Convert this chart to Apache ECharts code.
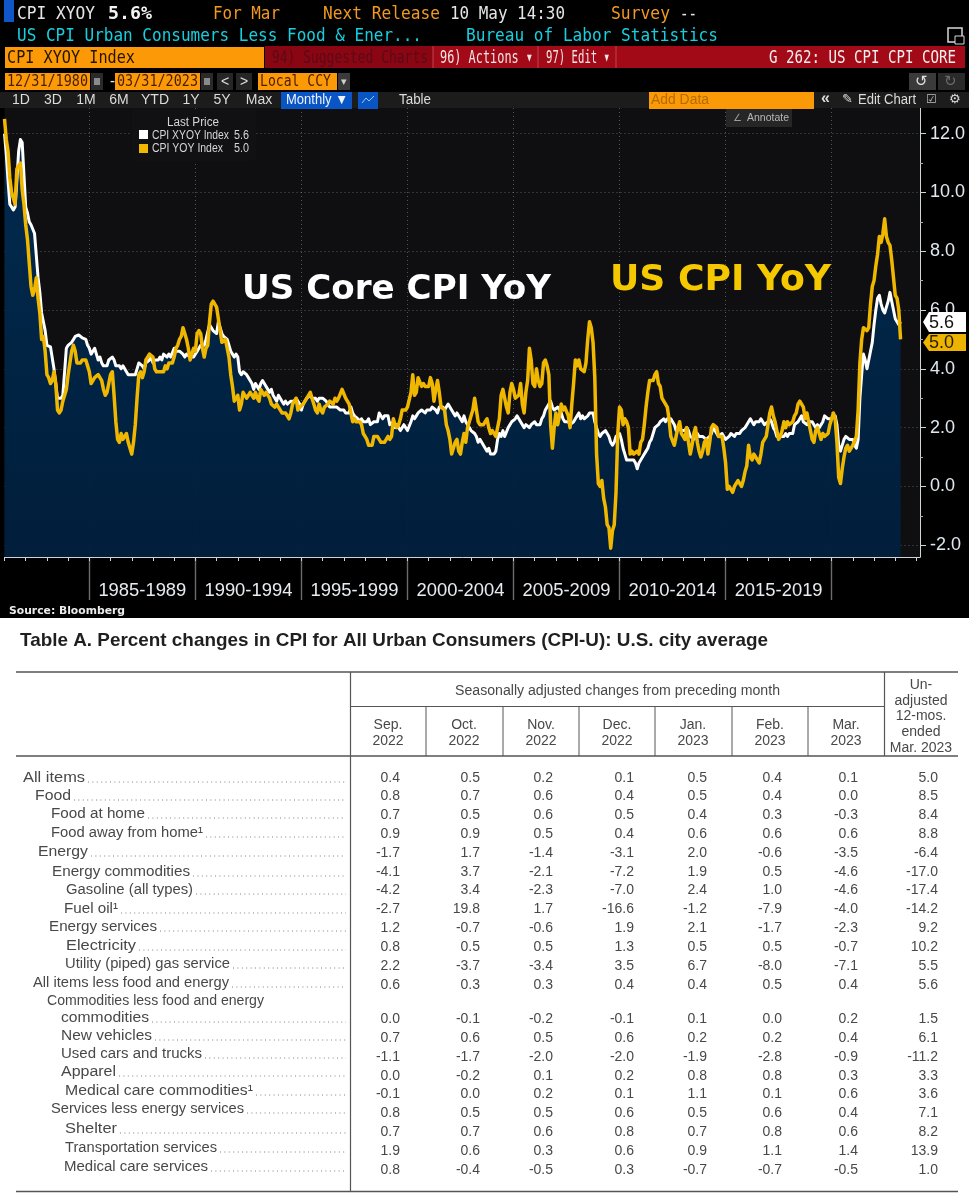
<!DOCTYPE html>
<html><head><meta charset="utf-8">
<style>html,body{margin:0;padding:0;background:#fff}#c{width:969px;height:1200px}</style>
<script src="https://cdn.jsdelivr.net/npm/echarts@6/dist/echarts.min.js"></script></head>
<body><div id="c"></div>
<script>
// ---------- chart data (monthly, Dec 1980 .. Mar 2023) ----------
const coreYoY = [12.0,
11.3,10.4,9.6,9.5,9.4,9.5,10.4,11.4,11.8,11.7,10.6,9.5,
9.3,9.0,8.9,8.9,8.6,8.6,7.1,6.6,5.9,5.9,5.3,4.8,
4.75,4.75,4.7,4.0,3.5,3.0,3.0,3.0,3.1,3.9,4.7,4.8,
4.8,4.9,5.0,5.1,5.1,5.15,5.1,5.05,5.1,5.0,4.8,4.7,
4.5,4.6,4.7,4.5,4.3,4.4,4.2,4.1,4.1,4.1,4.3,4.3,
4.4,4.3,4.1,4.1,4.1,4.0,4.1,4.0,4.0,3.8,3.8,3.8,
3.8,3.8,4.0,4.2,4.2,4.1,4.0,4.2,4.2,4.3,4.4,4.2,
4.3,4.3,4.3,4.4,4.3,4.5,4.5,4.4,4.5,4.4,4.4,4.7,
4.6,4.6,4.6,4.6,4.5,4.4,4.5,4.5,4.4,4.4,4.4,4.4,
4.6,4.7,4.8,4.8,4.8,5.0,5.0,5.5,5.5,5.3,5.3,5.2,
5.6,5.6,5.2,5.1,5.1,5.0,4.8,4.6,4.5,4.4,4.5,4.4,
3.9,3.8,3.9,3.9,3.8,3.7,3.7,3.5,3.3,3.5,3.5,3.3,
3.5,3.6,3.5,3.5,3.3,3.2,3.3,3.1,3.1,2.9,3.1,3.1,
2.9,2.8,2.9,2.8,2.8,2.9,2.9,2.9,3.0,2.9,2.8,2.6,
2.8,2.9,3.0,3.0,3.1,3.0,3.0,3.0,2.9,3.0,3.0,3.0,
3.0,2.9,2.8,2.7,2.7,2.7,2.7,2.7,2.7,2.6,2.6,2.6,
2.5,2.5,2.5,2.7,2.5,2.4,2.4,2.3,2.2,2.3,2.2,2.2,
2.2,2.3,2.1,2.1,2.2,2.2,2.2,2.5,2.5,2.3,2.4,2.4,
2.4,2.1,2.1,2.2,2.0,2.1,2.1,1.9,2.0,2.1,2.1,1.9,
1.9,2.2,2.4,2.3,2.4,2.5,2.5,2.6,2.6,2.5,2.6,2.6,
2.6,2.7,2.7,2.6,2.5,2.7,2.7,2.7,2.6,2.6,2.8,2.7,
2.6,2.6,2.4,2.5,2.5,2.3,2.2,2.4,2.2,2.2,2.0,1.9,
1.9,1.8,1.7,1.5,1.6,1.5,1.5,1.3,1.2,1.3,1.1,1.1,
1.1,1.2,1.6,1.8,1.7,1.9,1.7,1.7,2.0,2.0,2.2,2.2,
2.3,2.4,2.3,2.2,2.2,2.0,2.1,2.1,2.0,2.1,2.1,2.2,
2.1,2.1,2.1,2.3,2.4,2.6,2.7,2.8,2.9,2.7,2.6,2.6,
2.7,2.7,2.5,2.3,2.2,2.2,2.2,2.1,2.1,2.2,2.3,2.4,
2.5,2.3,2.4,2.3,2.3,2.4,2.5,2.5,2.5,2.2,2.0,1.8,
1.7,1.8,1.8,1.9,1.8,1.7,1.5,1.4,1.5,1.7,1.7,1.8,
1.6,1.3,1.1,0.9,0.9,0.9,0.9,0.9,0.8,0.6,0.8,0.8,
1.0,1.1,1.2,1.3,1.5,1.6,1.8,2.0,2.0,2.1,2.2,2.2,
2.3,2.2,2.3,2.3,2.3,2.2,2.1,1.9,2.0,2.0,1.9,1.9,
1.9,2.0,1.9,1.7,1.7,1.6,1.7,1.8,1.7,1.7,1.7,1.7,
1.6,1.6,1.7,1.8,2.0,1.9,1.9,1.7,1.7,1.8,1.7,1.6,
1.6,1.7,1.8,1.8,1.7,1.8,1.8,1.8,1.9,1.9,2.0,2.1,
2.2,2.3,2.2,2.1,2.2,2.2,2.2,2.3,2.2,2.1,2.1,2.2,
2.3,2.2,2.0,1.9,1.7,1.7,1.7,1.7,1.7,1.8,1.7,1.8,
1.8,1.8,2.1,2.1,2.2,2.3,2.4,2.2,2.2,2.1,2.2,2.2,
2.2,2.1,2.0,2.1,2.0,2.1,2.2,2.4,2.4,2.3,2.3,2.3,
2.3,2.4,2.1,1.4,1.2,1.2,1.6,1.7,1.7,1.6,1.6,1.6,
1.4,1.3,1.6,3.0,3.8,4.5,4.3,4.0,4.0,4.6,4.9,5.5,
6.0,6.4,6.5,6.2,6.0,5.9,5.9,6.3,6.6,6.3,6.0,5.7,
5.6,5.5,5.6];
const cpiYoY = [12.5,
11.8,11.4,10.5,10.0,9.8,9.6,10.8,10.8,11.0,10.1,9.6,8.9,
8.4,7.6,6.8,6.5,6.7,7.1,6.4,5.9,5.0,5.1,4.6,3.8,
3.7,3.5,3.6,3.9,3.5,2.6,2.5,2.6,2.9,2.9,3.3,3.8,
4.2,4.6,4.8,4.6,4.2,4.2,4.2,4.3,4.3,4.3,4.1,3.9,
3.5,3.5,3.7,3.7,3.8,3.8,3.6,3.3,3.1,3.2,3.5,3.8,
3.9,3.1,2.2,1.6,1.5,1.8,1.6,1.6,1.8,1.5,1.3,1.1,
1.5,2.1,3.0,3.8,3.9,3.7,3.9,4.3,4.4,4.5,4.5,4.4,
4.0,3.9,3.9,3.9,3.9,3.9,4.1,4.0,4.2,4.2,4.2,4.4,
4.7,4.8,5.0,5.1,5.4,5.2,5.0,4.7,4.3,4.5,4.7,4.6,
5.2,5.3,5.2,4.7,4.4,4.7,4.8,5.6,6.2,6.3,6.3,6.1,
5.7,5.3,4.9,4.9,5.0,4.7,4.4,3.8,3.4,2.9,3.0,3.1,
2.6,2.8,3.2,3.2,3.0,3.1,3.2,3.1,3.0,3.2,3.0,2.9,
3.3,3.2,3.1,3.2,3.2,3.0,2.8,2.8,2.7,2.8,2.7,2.7,
2.5,2.5,2.5,2.4,2.3,2.5,2.8,2.9,3.0,2.6,2.7,2.7,
2.8,2.9,2.9,3.1,3.2,3.0,2.8,2.6,2.5,2.8,2.6,2.5,
2.7,2.7,2.8,2.9,2.9,2.8,3.0,2.9,3.0,3.0,3.3,3.3,
3.0,3.0,2.8,2.5,2.2,2.3,2.2,2.2,2.2,2.1,1.8,1.7,
1.6,1.4,1.4,1.4,1.7,1.7,1.7,1.6,1.5,1.5,1.5,1.6,
1.7,1.6,1.7,2.3,2.1,2.0,2.1,2.3,2.6,2.6,2.6,2.7,
2.7,3.2,3.8,3.1,3.2,3.7,3.7,3.4,3.5,3.4,3.4,3.4,
3.7,3.5,2.9,3.3,3.6,3.2,2.7,2.7,2.6,2.1,1.9,1.6,
1.1,1.1,1.5,1.6,1.2,1.1,1.5,1.8,1.5,2.0,2.2,2.4,
2.6,3.0,3.0,2.2,2.1,2.1,2.1,2.2,2.3,2.0,1.8,1.9,
1.9,1.7,1.7,2.3,3.1,3.3,3.0,2.7,2.5,3.2,3.5,3.3,
3.0,3.0,3.1,3.5,2.8,2.5,3.2,3.6,4.7,4.3,3.5,3.4,
4.0,3.6,3.4,3.5,4.2,4.3,4.1,3.8,2.1,1.3,2.0,2.5,
2.1,2.4,2.8,2.6,2.7,2.7,2.4,2.0,2.8,3.5,4.3,4.1,
4.3,4.0,4.0,3.9,4.2,5.0,5.6,5.4,4.9,3.7,1.1,0.1,
0.0,0.2,-0.4,-0.7,-1.3,-1.4,-2.1,-1.5,-1.3,-0.2,1.8,2.7,
2.6,2.1,2.3,2.2,2.0,1.1,1.2,1.1,1.1,1.2,1.1,1.5,
1.6,2.1,2.7,3.2,3.6,3.6,3.6,3.8,3.9,3.5,3.4,3.0,
2.9,2.9,2.7,2.3,1.7,1.7,1.4,1.7,2.0,2.2,1.8,1.7,
1.6,2.0,1.5,1.1,1.4,1.8,2.0,1.5,1.2,1.0,1.2,1.5,
1.6,1.1,1.5,2.0,2.1,2.1,2.0,1.7,1.7,1.7,1.3,0.8,
-0.1,0.0,-0.1,-0.2,0.0,0.1,0.2,0.2,0.0,0.2,0.5,0.7,
1.4,1.0,0.9,1.1,1.0,1.0,0.8,1.1,1.5,1.6,1.7,2.1,
2.5,2.7,2.4,2.2,1.9,1.6,1.7,1.9,2.2,2.0,2.2,2.1,
2.1,2.2,2.4,2.5,2.8,2.9,2.9,2.7,2.3,2.5,2.2,1.9,
1.6,1.5,1.9,2.0,1.8,1.6,1.8,1.7,1.7,1.8,2.1,2.3,
2.5,2.3,1.5,0.3,0.1,0.6,1.0,1.3,1.4,1.2,1.2,1.4,
1.4,1.7,2.6,4.2,5.0,5.4,5.4,5.3,5.4,6.2,6.8,7.0,
7.5,7.9,8.5,8.3,8.6,9.1,8.5,8.3,8.2,7.7,7.1,6.5,
6.4,6.0,5.0];
const periodLabels = ['1985-1989','1990-1994','1995-1999','2000-2004','2005-2009','2010-2014','2015-2019'];
const yTickLabels = [-2,0,2,4,6,8,10,12];
const yMinorTicks = [-1,1,3,5,7,9,11];

// ---------- table data ----------
const colHeads = [['Sep.','2022'],['Oct.','2022'],['Nov.','2022'],['Dec.','2022'],['Jan.','2023'],['Feb.','2023'],['Mar.','2023']];
const rowNames = ['All items','Food','Food at home','Food away from home¹','Energy','Energy commodities','Gasoline (all types)','Fuel oil¹','Energy services','Electricity','Utility (piped) gas service','All items less food and energy','Commodities less food and energy','commodities','New vehicles','Used cars and trucks','Apparel','Medical care commodities¹','Services less energy services','Shelter','Transportation services','Medical care services'];
const sep22 = ['0.4','0.8','0.7','0.9','-1.7','-4.1','-4.2','-2.7','1.2','0.8','2.2','0.6','','0.0','0.7','-1.1','0.0','-0.1','0.8','0.7','1.9','0.8'];
const oct22 = ['0.5','0.7','0.5','0.9','1.7','3.7','3.4','19.8','-0.7','0.5','-3.7','0.3','','-0.1','0.6','-1.7','-0.2','0.0','0.5','0.7','0.6','-0.4'];
const nov22 = ['0.2','0.6','0.6','0.5','-1.4','-2.1','-2.3','1.7','-0.6','0.5','-3.4','0.3','','-0.2','0.5','-2.0','0.1','0.2','0.5','0.6','0.3','-0.5'];
const dec22 = ['0.1','0.4','0.5','0.4','-3.1','-7.2','-7.0','-16.6','1.9','1.3','3.5','0.4','','-0.1','0.6','-2.0','0.2','0.1','0.6','0.8','0.6','0.3'];
const jan23 = ['0.5','0.5','0.4','0.6','2.0','1.9','2.4','-1.2','2.1','0.5','6.7','0.4','','0.1','0.2','-1.9','0.8','1.1','0.5','0.7','0.9','-0.7'];
const feb23 = ['0.4','0.4','0.3','0.6','-0.6','0.5','1.0','-7.9','-1.7','0.5','-8.0','0.5','','0.0','0.2','-2.8','0.8','0.1','0.6','0.8','1.1','-0.7'];
const mar23 = ['0.1','0.0','-0.3','0.6','-3.5','-4.6','-4.6','-4.0','-2.3','-0.7','-7.1','0.4','','0.2','0.4','-0.9','0.3','0.6','0.4','0.6','1.4','-0.5'];
const yoy12 = ['5.0','8.5','8.4','8.8','-6.4','-17.0','-17.4','-14.2','9.2','10.2','5.5','5.6','','1.5','6.1','-11.2','3.3','3.6','7.1','8.2','13.9','1.0'];

// ---------- layout constants ----------
const nameX = [23,35,51,51,38,52,66,64,49,66,65,33,47,61,61,61,61,65,51,65,65,64];
const nameEnd = [85,71,145,203,88,190,193,118,157,136,230,229,264,149,152,202,116,253,244,117,217,208];
const nameY = [777,795,813,832,851,871,889,908,926,945,963,982,1000,1017,1035,1053,1071,1090,1108,1128,1147,1166];
const valY = [777,795,814,833,852,871,889,908,927,946,965,984,0,1018,1037,1056,1075,1093,1112,1131,1150,1169];
const colRight = [400,480,553,634,707,782,858,938];
const colCenter = [388,464,541,617,693,770,846];
const colLines = [426,503,579,655,732,808];

const N = 519, months = ['Jan','Feb','Mar','Apr','May','Jun','Jul','Aug','Sep','Oct','Nov','Dec'];
const categories = [];
for (let i = 0; i < N; i++) { const m = 11 + i; categories.push(months[m % 12] + ' ' + (1980 + Math.floor(m / 12))); }
const isFive = i => i >= 48 && i <= 468 && (i - 48) % 60 === 0;
const isMid = i => i >= 78 && i <= 438 && (i - 78) % 60 === 0;

const SANS = '"Liberation Sans"', MONO = '"DejaVu Sans Mono"';
const m = document.createElement('canvas').getContext('2d');
function T(text, x, y, font, color, opt) {
  opt = opt || {};
  let sx = 1;
  if (opt.w) { m.font = font; sx = opt.w / m.measureText(text).width; }
  return { type: 'text', silent: true, x, y: y + 1, scaleX: sx, z: opt.z || 90,
    style: { text, x: 0, y: 0, font, fill: color, align: opt.align || 'left', verticalAlign: 'middle', opacity: opt.opacity == null ? 1 : opt.opacity } };
}
function R(x, y, w, h, fill, opt) {
  opt = opt || {};
  return { type: 'rect', silent: true, z: opt.z == null ? 90 : opt.z, shape: { x, y, width: w, height: h, r: opt.r || 0 },
    style: { fill, stroke: opt.stroke || null, lineWidth: opt.lw || 0 } };
}
function L(x1, y1, x2, y2, color, lw, dash) {
  return { type: 'line', silent: true, z: 90, shape: { x1, y1, x2, y2 }, style: { stroke: color, lineWidth: lw, lineDash: dash || null } };
}
function tag(y1, y2, fill, text, color) {
  const ym = (y1 + y2) / 2;
  return [
    { type: 'polygon', silent: true, z: 95, shape: { points: [[923, ym], [929, y1], [966, y1], [966, y2], [929, y2]] }, style: { fill } },
    { type: 'text', silent: true, z: 96, x: 929, y: ym + 1, style: { text, x: 0, y: 0, font: '18px ' + SANS, fill: color, align: 'left', verticalAlign: 'middle' } }
  ];
}

const ORANGE = '#fb9a06', RED = '#a30a18', HDR = '#f29a1f', CY = '#16cfe0';
const H1 = '18px ' + MONO, H2 = '15px ' + MONO;
const g = [];
// page background
g.push(R(0, 0, 969, 618, '#000', { z: -10 }));
// header row 1
g.push(R(4, 0, 10, 22, '#0f56c8'));
g.push(T('CPI XYOY', 17, 13, H1, '#e6e6e6', { w: 78 }));
g.push(T('5.6%', 108, 13, 'bold ' + H1, '#f4f4f4', { w: 44 }));
g.push(T('For Mar', 213, 13, H1, HDR, { w: 67 }));
g.push(T('Next Release', 323, 13, H1, HDR, { w: 117 }));
g.push(T('10 May 14:30', 450, 13, H1, '#e6e6e6', { w: 115 }));
g.push(T('Survey', 611, 13, H1, HDR, { w: 59 }));
g.push(T('--', 680, 13, H1, '#e6e6e6', { w: 17 }));
// header row 2
g.push(T('US CPI Urban Consumers Less Food & Ener...', 17, 35, H1, CY, { w: 405 }));
g.push(T('Bureau of Labor Statistics', 466, 35, H1, CY, { w: 252 }));
g.push(R(948, 28, 14, 14, '#000', { stroke: '#d8d8d8', lw: 1.5 }));
g.push(R(955, 36, 9, 8, '#000', { stroke: '#d8d8d8', lw: 1 }));
// header row 3
g.push(R(5, 47, 259, 21, ORANGE));
g.push(T('CPI XYOY Index', 7, 57, H1, '#241400', { w: 128 }));
g.push(R(265, 46, 700, 22, RED));
g.push(R(265, 46, 168, 22, '#8b0613'));
g.push(T('94) Suggested Charts', 272, 57, H1, '#5a0a18', { w: 156 }));
g.push(T('96) Actions ▾', 440, 57, H1, '#f2e6e6', { w: 93 }));
g.push(T('97) Edit ▾', 546, 57, H1, '#f2e6e6', { w: 64 }));
g.push(L(433, 46, 433, 68, '#c04050', 1), L(538, 46, 538, 68, '#c04050', 1), L(616, 46, 616, 68, '#c04050', 1));
g.push(T('G 262: US CPI CPI CORE', 769, 57, H1, '#f4f0f0', { w: 187 }));
// header row 4
g.push(R(5, 73, 85, 17, ORANGE), R(115, 73, 85, 17, ORANGE), R(258, 73, 79, 17, ORANGE));
g.push(T('12/31/1980', 7, 81, H2, '#4a1d00', { w: 81 }));
g.push(T('-', 108, 81, H2, '#e0e0e0'));
g.push(T('03/31/2023', 117, 81, H2, '#4a1d00', { w: 81 }));
g.push(T('Local CCY', 260, 81, H2, '#4a1d00', { w: 71 }));
g.push(R(91, 73, 12, 17, '#2a2a2a'), R(201, 73, 12, 17, '#2a2a2a'), R(338, 73, 12, 17, '#3a3a3a'));
g.push(R(94, 78, 6, 7, '#8a8a8a'), R(204, 78, 6, 7, '#8a8a8a'));
g.push(T('▾', 341, 81, '11px ' + SANS, '#d0d0d0'));
g.push(R(217, 73, 16, 17, '#262626'), R(236, 73, 16, 17, '#262626'));
g.push(T('<', 221, 81, '14px ' + SANS, '#e0e0e0'), T('>', 240, 81, '14px ' + SANS, '#e0e0e0'));
g.push(R(909, 73, 27, 17, '#3a3a3a'), R(938, 73, 27, 17, '#2a2a2a'));
g.push(T('↺', 915, 81, '15px "DejaVu Sans"', '#e0e0e0'), T('↻', 944, 81, '15px "DejaVu Sans"', '#6a6a6a'));
// header row 5
g.push(R(0, 92, 969, 16, '#1c1c1c'));
[['1D', 21], ['3D', 53], ['1M', 86], ['6M', 119], ['YTD', 155], ['1Y', 191], ['5Y', 222], ['Max', 259]].forEach(a =>
  g.push(T(a[0], a[1], 99, '14px ' + SANS, '#dcdcdc', { align: 'center' })));
g.push(R(281, 92, 71, 17, '#0a55c4'));
g.push(T('Monthly ▼', 286, 99, '14px ' + SANS, '#eef3ff', { w: 62 }));
g.push(R(358, 92, 20, 17, '#0a55c4'));
g.push({ type: 'polyline', silent: true, z: 91, shape: { points: [[362, 103], [366, 98], [369, 101], [374, 96]] }, style: { stroke: '#a0c4ff', lineWidth: 1, fill: null } });
g.push(T('Table', 399, 99, '14px ' + SANS, '#dcdcdc', { w: 32 }));
g.push(R(649, 92, 165, 17, ORANGE));
g.push(T('Add Data', 651, 99, '14px ' + SANS, '#b36a00', { w: 58 }));
g.push(T('«', 821, 98, 'bold 16px ' + SANS, '#dcdcdc'));
g.push(T('✎', 842, 99, '13px "DejaVu Sans"', '#dcdcdc'));
g.push(T('Edit Chart', 858, 99, '14px ' + SANS, '#dcdcdc', { w: 58 }));
g.push(T('☑', 926, 99, '12px "DejaVu Sans"', '#bcbcbc'));
g.push(T('⚙', 949, 99, '13px "DejaVu Sans"', '#dcdcdc'));
// annotate button + legend box
g.push(R(726, 109, 66, 18, '#262626'));
g.push(T('∠', 733, 117, '10px "DejaVu Sans"', '#9a9a9a'));
g.push(T('Annotate', 747, 117, '11px ' + SANS, '#b8b8b8', { w: 42 }));
g.push(R(132, 109, 124, 52, '#111114', { r: 3 }));
g.push(T('Last Price', 167, 122, '12px ' + SANS, '#d6d6d6', { w: 52 }));
g.push(R(139, 130, 9, 9, '#fff'), R(139, 144, 9, 9, '#f2b800'));
g.push(T('CPI XYOY Index', 152, 135, '12px ' + SANS, '#d6d6d6', { w: 77 }));
g.push(T('5.6', 234, 135, '12px ' + SANS, '#d6d6d6', { w: 15 }));
g.push(T('CPI YOY Index', 152, 148, '12px ' + SANS, '#d6d6d6', { w: 71 }));
g.push(T('5.0', 234, 148, '12px ' + SANS, '#d6d6d6', { w: 15 }));
// big overlays
g.push(T('US Core CPI YoY', 242, 289, 'bold 34px "DejaVu Sans"', '#fff', { w: 309, z: 92 }));
g.push(T('US CPI YoY', 610, 280, 'bold 35px "DejaVu Sans"', '#f6c800', { w: 221, z: 92 }));
// last value tags
g.push.apply(g, tag(312, 332, '#fff', coreYoY[coreYoY.length - 1].toFixed(1), '#111'));
g.push.apply(g, tag(334, 351, '#ecb400', cpiYoY[cpiYoY.length - 1].toFixed(1), '#2a1c00'));
g.push(T('Source: Bloomberg', 9, 610, 'bold 11px "DejaVu Sans"', '#ececec', { w: 116 }));
// table
const INK = '#484848', RULE = '#555', TF = '14px ' + SANS;
g.push(T('Table A. Percent changes in CPI for All Urban Consumers (CPI-U): U.S. city average', 20, 640, 'bold 18.5px ' + SANS, '#1f1f1f', { w: 748 }));
g.push(L(16, 672, 958, 672, RULE, 1.4), L(350, 706.5, 884, 706.5, RULE, 1.2), L(16, 756, 958, 756, RULE, 1.4), L(16, 1191.5, 958, 1191.5, RULE, 1.6));
g.push(L(350.5, 672, 350.5, 1191, RULE, 1.2), L(884.5, 672, 884.5, 756, RULE, 1.2));
colLines.forEach(x => g.push(L(x, 706, x, 756, RULE, 1)));
g.push(T('Seasonally adjusted changes from preceding month', 455, 690, TF, INK, { w: 325 }));
colHeads.forEach((h, i) => {
  g.push(T(h[0], colCenter[i], 724, TF, INK, { align: 'center' }));
  g.push(T(h[1], colCenter[i], 740, TF, INK, { align: 'center' }));
});
[['Un-', 684], ['adjusted', 700], ['12-mos.', 715], ['ended', 731], ['Mar. 2023', 747]].forEach(a =>
  g.push(T(a[0], 921, a[1], TF, INK, { align: 'center' })));
rowNames.forEach((name, i) => {
  g.push(T(name, nameX[i], nameY[i], TF, INK, { w: nameEnd[i] - nameX[i] }));
  if (i !== 12) g.push(L(nameEnd[i] + 3, nameY[i] + 5, 346, nameY[i] + 5, '#808080', 1, [1, 3.4]));
});
[sep22, oct22, nov22, dec22, jan23, feb23, mar23, yoy12].forEach((col, c) => col.forEach((v, i) => {
  if (v) g.push(T(v, colRight[c], valY[i], TF, INK, { align: 'right' }));
}));

const chart = echarts.init(document.getElementById('c'), null, { renderer: 'canvas', width: 969, height: 1200 });
const dotted = { color: 'rgba(175,185,195,0.42)', width: 1, type: [1, 3] };
chart.setOption({
  animation: false, backgroundColor: '#ffffff',
  grid: { left: 4.5, top: 108, width: 915.5, height: 449, show: true, backgroundColor: '#0f0f12', borderWidth: 0, containLabel: false },
  xAxis: [
    { type: 'category', data: categories, boundaryGap: false, position: 'bottom', z: 3,
      axisLine: { onZero: false, lineStyle: { color: '#cfd4d8', width: 1 } },
      axisTick: { length: 4, interval: i => i % 12 === 0, lineStyle: { color: '#cfd4d8' } },
      axisLabel: { show: false },
      splitLine: { show: true, interval: i => isFive(i), lineStyle: dotted } },
    { type: 'category', data: categories, boundaryGap: false, position: 'bottom',
      axisLine: { show: false, onZero: false },
      axisTick: { show: true, length: 43, interval: i => isFive(i), lineStyle: { color: '#6c6c6c', width: 1.4 } },
      axisLabel: { show: true, interval: i => isMid(i), margin: 25, color: '#e6ecf0', fontFamily: 'Liberation Sans', fontSize: 18.4, hideOverlap: false,
        formatter: (v, i) => isMid(i) ? periodLabels[(i - 78) / 60] : '' },
      splitLine: { show: false } }
  ],
  yAxis: [
    { type: 'value', position: 'right', min: -2.4, max: 12.87, scale: true,
      axisLine: { show: true, lineStyle: { color: '#cfd4d8', width: 1 } },
      axisTick: { show: true, length: 6, customValues: yTickLabels, lineStyle: { color: '#cfd4d8' } },
      axisLabel: { show: true, customValues: yTickLabels, margin: 10, padding: [6, 0, 0, 0], color: '#dfe8ef', fontFamily: 'Liberation Sans', fontSize: 18, formatter: v => v.toFixed(1) },
      splitLine: { show: true, customValues: yTickLabels, lineStyle: dotted } },
    { type: 'value', position: 'right', min: -2.4, max: 12.87, scale: true,
      axisLine: { show: false },
      axisTick: { show: true, length: 3, customValues: yMinorTicks, lineStyle: { color: '#a8b0b8' } },
      axisLabel: { show: false }, splitLine: { show: false } }
  ],
  series: [
    { name: 'CPI XYOY Index', type: 'line', data: coreYoY, showSymbol: false, symbol: 'none', smooth: false, z: 3,
      lineStyle: { color: '#ffffff', width: 3, join: 'round' },
      areaStyle: { origin: 'start', opacity: 0.94, color: new echarts.graphic.LinearGradient(0, 0, 0, 1, [{ offset: 0, color: '#002c52' }, { offset: 1, color: '#001f3e' }]) } },
    { name: 'CPI YOY Index', type: 'line', data: cpiYoY, showSymbol: false, symbol: 'none', smooth: false, z: 4,
      lineStyle: { color: '#efb700', width: 3.5, join: 'round' } }
  ],
  graphic: { elements: g }
});
</script></body></html>
